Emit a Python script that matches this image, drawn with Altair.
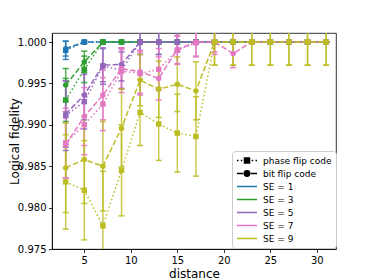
import altair as alt
import pandas as pd

distances = [3, 5, 7, 9, 11, 13, 15, 17, 19, 21, 23, 25, 27, 29, 31]
se_names = ["SE = 1", "SE = 3", "SE = 5", "SE = 7", "SE = 9"]
se_colors = ["#1f77b4", "#2ca02c", "#9467bd", "#e377c2", "#bcbd22"]
code_names = ["phase flip code", "bit flip code"]
y_ticks = [0.975, 0.980, 0.985, 0.990, 0.995, 1.000]
x_ticks = [5, 10, 15, 20, 25, 30]

# SE = 1
phase_se1 = [0.9990, 1.0, 1.0, 1.0, 1.0, 1.0, 1.0, 1.0, 1.0, 1.0, 1.0, 1.0, 1.0, 1.0, 1.0]
phase_se1_err = [0.0011, 0.0002, 0.0, 0.0, 0.0, 0.0, 0.0, 0.0, 0.0, 0.0, 0.0, 0.0, 0.0, 0.0, 0.0]
bit_se1 = [0.9992, 1.0, 1.0, 1.0, 1.0, 1.0, 1.0, 1.0, 1.0, 1.0, 1.0, 1.0, 1.0, 1.0, 1.0]
bit_se1_err = [0.0009, 0.0001, 0.0, 0.0, 0.0, 0.0, 0.0, 0.0, 0.0, 0.0, 0.0, 0.0, 0.0, 0.0, 0.0]
# SE = 3
phase_se3 = [0.9930, 0.9967, 1.0, 1.0, 1.0, 1.0, 1.0, 1.0, 1.0, 1.0, 1.0, 1.0, 1.0, 1.0, 1.0]
phase_se3_err = [0.0026, 0.0016, 0.0002, 0.0, 0.0, 0.0, 0.0, 0.0, 0.0, 0.0, 0.0, 0.0, 0.0, 0.0, 0.0]
bit_se3 = [0.9948, 0.9976, 1.0, 1.0, 1.0, 1.0, 1.0, 1.0, 1.0, 1.0, 1.0, 1.0, 1.0, 1.0, 1.0]
bit_se3_err = [0.0020, 0.0013, 0.0001, 0.0, 0.0, 0.0, 0.0, 0.0, 0.0, 0.0, 0.0, 0.0, 0.0, 0.0, 0.0]
# SE = 5
phase_se5 = [0.9911, 0.9928, 0.9971, 0.9966, 1.0, 1.0, 1.0, 1.0, 1.0, 1.0, 1.0, 1.0, 1.0, 1.0, 1.0]
phase_se5_err = [0.0042, 0.0033, 0.0022, 0.0022, 0.0015, 0.0015, 0.0012, 0.0, 0.0, 0.0, 0.0, 0.0, 0.0, 0.0, 0.0]
bit_se5 = [0.9913, 0.9936, 0.9972, 0.9973, 1.0, 1.0, 1.0, 1.0, 1.0, 1.0, 1.0, 1.0, 1.0, 1.0, 1.0]
bit_se5_err = [0.0040, 0.0030, 0.0020, 0.0020, 0.0015, 0.0015, 0.0012, 0.0, 0.0, 0.0, 0.0, 0.0, 0.0, 0.0, 0.0]
# SE = 7
phase_se7 = [0.9878, 0.9900, 0.9925, 0.9965, 0.9962, 0.9967, 0.9990, 0.9999, 1.0, 1.0, 1.0, 1.0, 1.0, 1.0, 1.0]
phase_se7_err = [0.0042, 0.0036, 0.0032, 0.0026, 0.0026, 0.0025, 0.0017, 0.0017, 0.0012, 0.0, 0.0, 0.0, 0.0, 0.0, 0.0]
bit_se7 = [0.9876, 0.9910, 0.9936, 0.9968, 0.9964, 0.9956, 0.9991, 1.0, 1.0, 0.9986, 1.0, 1.0, 1.0, 1.0, 1.0]
bit_se7_err = [0.0040, 0.0035, 0.0030, 0.0025, 0.0026, 0.0026, 0.0017, 0.0017, 0.0015, 0.0017, 0.0, 0.0, 0.0, 0.0, 0.0]
# SE = 9
phase_se9 = [0.9831, 0.9821, 0.9778, 0.9845, 0.9915, 0.9901, 0.9890, 0.9886, 1.0, 1.0, 1.0, 1.0, 1.0, 1.0, 1.0]
phase_se9_err = [0.0057, 0.0060, 0.0066, 0.0055, 0.0040, 0.0044, 0.0047, 0.0048, 0.0028, 0.0028, 0.0028, 0.0028, 0.0028, 0.0028, 0.0028]
bit_se9 = [0.9848, 0.9858, 0.9850, 0.9896, 0.9954, 0.9943, 0.9949, 0.9941, 1.0, 1.0, 1.0, 1.0, 1.0, 1.0, 1.0]
bit_se9_err = [0.0054, 0.0053, 0.0054, 0.0047, 0.0031, 0.0034, 0.0033, 0.0035, 0.0028, 0.0028, 0.0028, 0.0028, 0.0028, 0.0028, 0.0028]

series = [
    ("SE = 1", "phase flip code", phase_se1, phase_se1_err),
    ("SE = 1", "bit flip code", bit_se1, bit_se1_err),
    ("SE = 3", "phase flip code", phase_se3, phase_se3_err),
    ("SE = 3", "bit flip code", bit_se3, bit_se3_err),
    ("SE = 5", "phase flip code", phase_se5, phase_se5_err),
    ("SE = 5", "bit flip code", bit_se5, bit_se5_err),
    ("SE = 7", "phase flip code", phase_se7, phase_se7_err),
    ("SE = 7", "bit flip code", bit_se7, bit_se7_err),
    ("SE = 9", "phase flip code", phase_se9, phase_se9_err),
    ("SE = 9", "bit flip code", bit_se9, bit_se9_err),
]

frames = []
for se, code, vals, errs in series:
    frames.append(pd.DataFrame({"distance": distances, "fidelity": vals, "err": errs,
                                "se": se, "code": code}))
df = pd.concat(frames, ignore_index=True)
df["lo"] = df["fidelity"] - df["err"]
df["hi"] = df["fidelity"] + df["err"]

x_scale = alt.Scale(domain=[1.527, 32.06], nice=False, zero=False)
y_scale = alt.Scale(domain=[0.975, 1.00109], nice=False, zero=False)
x_axis = alt.Axis(title="distance", values=x_ticks, labelPadding=2.5,
                  titleY=28, titleBaseline="alphabetic")
y_axis = alt.Axis(title="Logical fidelity", values=y_ticks, format=".3f", labelPadding=2.5,
                  titleX=-34, titleY=108, titleAngle=270, titleBaseline="alphabetic")
color_enc = alt.Color("se:N", scale=alt.Scale(domain=se_names, range=se_colors), legend=None)


def X():
    return alt.X("distance:Q", scale=x_scale, axis=x_axis)


bars = alt.Chart(df).mark_rule(strokeWidth=1.5, opacity=0.8, clip=True).encode(
    x=X(),
    y=alt.Y("lo:Q", scale=y_scale, axis=y_axis),
    y2="hi:Q",
    color=color_enc,
)
caps = alt.Chart(df).transform_fold(["lo", "hi"], as_=["end", "capv"]).mark_tick(
    orient="horizontal", size=6, thickness=1.5, opacity=0.9, clip=True
).encode(
    x=X(),
    y=alt.Y("capv:Q", scale=y_scale, axis=y_axis),
    color=color_enc,
)

layers = [bars, caps]
for se, code, vals, errs in series:
    sub = df[(df["se"] == se) & (df["code"] == code)]
    dash = [1.5, 2.475] if code == "phase flip code" else [5.55, 2.4]
    shape = "square" if code == "phase flip code" else "circle"
    line = alt.Chart(sub).mark_line(strokeDash=dash, strokeWidth=1.5, clip=True).encode(
        x=X(), y=alt.Y("fidelity:Q", scale=y_scale, axis=y_axis), color=color_enc)
    pts = alt.Chart(sub).mark_point(shape=shape, filled=True, size=30, opacity=1, clip=True).encode(
        x=X(), y=alt.Y("fidelity:Q", scale=y_scale, axis=y_axis), color=color_enc)
    layers += [line, pts]

# legend (one combined legend, drawn by Vega from scale domains)
phase_path = "M-1,0H-0.85M-0.62,0H-0.47M0.47,0H0.62M0.85,0H1M-0.25,-0.25H0.25V0.25H-0.25Z"
bit_path = "M-1,0H-0.38M0.38,0H1M0.27,0A0.27,0.27,0,1,1,-0.27,0A0.27,0.27,0,1,1,0.27,0Z"
line_path = "M-1,0H1"
legend_keys = code_names + se_names
legend_colors = ["black", "black"] + se_colors
legend_shapes = [phase_path, bit_path, line_path, line_path, line_path, line_path, line_path]


def leg():
    return alt.Legend(title=None, orient="none", legendX=180, legendY=118, symbolSize=400,
                      labelFontSize=9, labelFont="DejaVu Sans", labelColor="black",
                      padding=4, rowPadding=2, clipHeight=11, strokeColor="#cccccc",
                      fillColor="white", cornerRadius=3, labelOffset=5, symbolStrokeWidth=1.5)


legend_layer = alt.Chart(pd.DataFrame({"key": legend_keys})).transform_filter("false").mark_point(
    filled=True, opacity=1, strokeWidth=1.5
).encode(
    fill=alt.Fill("key:N", scale=alt.Scale(domain=legend_keys, range=legend_colors), legend=leg()),
    stroke=alt.Stroke("key:N", scale=alt.Scale(domain=legend_keys, range=legend_colors), legend=leg()),
    shape=alt.Shape("key:N", scale=alt.Scale(domain=legend_keys, range=legend_shapes), legend=leg()),
)
layers.append(legend_layer)

chart = alt.layer(*layers).properties(
    width=284, height=216, autosize="none",
    padding={"left": 44, "top": 25, "right": 30, "bottom": 31},
).configure_view(stroke="black", strokeWidth=0.8).configure_axis(
    grid=False, domainColor="black", domainWidth=0.8, tickColor="black", tickWidth=0.8,
    tickSize=3.5, labelFont="DejaVu Sans", labelFontSize=10, labelColor="black",
    titleFont="DejaVu Sans", titleFontSize=12, titleFontWeight="normal", titleColor="black",
)

chart.save("out.html", embed_options={"renderer": "svg", "actions": False})
